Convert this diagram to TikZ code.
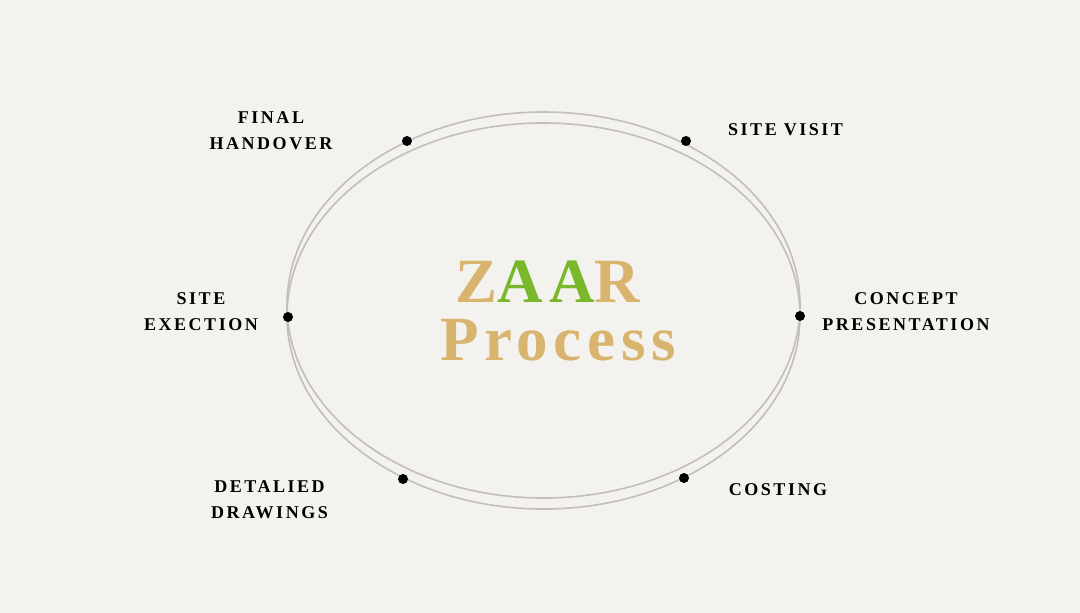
\documentclass[tikz,border=0pt]{standalone}
\usepackage{fontspec}
\newfontfamily\labfont[LetterSpace=14]{Liberation Serif}
\newfontfamily\titfont[LetterSpace=9]{Liberation Serif}
\definecolor{bgc}{HTML}{F3F2EE}
\definecolor{ringc}{HTML}{C2BFB8}
\definecolor{goldc}{HTML}{D8B46E}
\definecolor{greenc}{HTML}{78B82A}
\tikzset{
  lbl/.style={align=center, inner sep=0pt, text=black,
    font={\labfont\bfseries\fontsize{18}{26}\selectfont}},
  dotc/.style={circle, fill=black, inner sep=0pt, minimum size=10pt},
  ring/.style={draw=ringc, line width=1.6pt},
  ttl/.style={inner sep=0pt, anchor=base, font={\titfont\bfseries\fontsize{63}{70}\selectfont}}
}
\begin{document}
\begin{tikzpicture}[x=1pt,y=-1pt]
\fill[bgc] (0,0) rectangle (1080,613);
\useasboundingbox (0,0) rectangle (1080,613);
\draw[ring] (543.5,305) ellipse [x radius=256.5, y radius=193];
\draw[ring] (543.5,316) ellipse [x radius=256.5, y radius=193];
\node[dotc] (d1) at (407,141) {};
\node[dotc] (d2) at (686,141) {};
\node[dotc] (d3) at (288,317) {};
\node[dotc] (d4) at (800,316) {};
\node[dotc] (d5) at (403,479) {};
\node[dotc] (d6) at (684,478) {};
\node[lbl] (l1) at (271,131) {FINAL\\HANDOVER};
\node[lbl, anchor=west] (l2) at (728,130) {SITE VISIT};
\node[lbl] (l3) at (906,312) {CONCEPT\\PRESENTATION};
\node[lbl] (l4) at (201,312) {SITE\\EXECTION};
\node[lbl] (l5) at (269.5,500) {DETALIED\\DRAWINGS};
\node[lbl] (l6) at (778,490) {COSTING};
\node[ttl, text=goldc] (t1) at (548,302) {Z\textcolor{greenc}{AA}R};
\node[ttl, text=goldc] (t2) at (558,360) {Process};
\end{tikzpicture}
\end{document}
